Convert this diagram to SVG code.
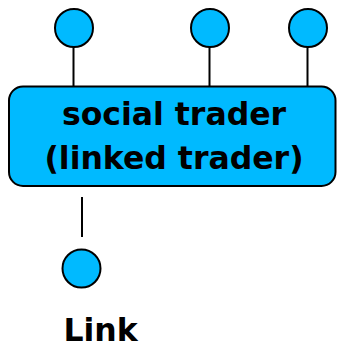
<svg xmlns="http://www.w3.org/2000/svg" width="337" height="348" viewBox="0 0 337 348">
<style>
.port{fill:#00BAFF;stroke:#000;stroke-width:2}
.box{fill:#00BAFF;stroke:#000;stroke-width:2}
.conn line{stroke:#000;stroke-width:2}
text{font-family:"DejaVu Sans",sans-serif;font-weight:bold;font-size:31.5px;fill:#000;text-anchor:middle}
</style>
<g class="conn" id="connectors">
<line x1="73.5" y1="47" x2="73.5" y2="87"/>
<line x1="209.5" y1="47" x2="209.5" y2="87"/>
<line x1="307.5" y1="47" x2="307.5" y2="87"/>
<line x1="82" y1="197" x2="82" y2="237"/>
</g>
<g id="port1"><circle class="port" cx="74" cy="28" r="19"/></g>
<g id="port2"><circle class="port" cx="210" cy="28" r="19"/></g>
<g id="port3"><circle class="port" cx="308" cy="28" r="19"/></g>
<g id="trader">
<rect class="box" x="9" y="86.5" width="326.5" height="99.5" rx="14"/>
<text x="174" y="125">social trader</text>
<text x="174" y="169">(linked trader)</text>
</g>
<g id="link">
<circle class="port" cx="81.5" cy="268.5" r="19"/>
<text x="100.5" y="341" font-size="32">Link</text>
</g>
</svg>
